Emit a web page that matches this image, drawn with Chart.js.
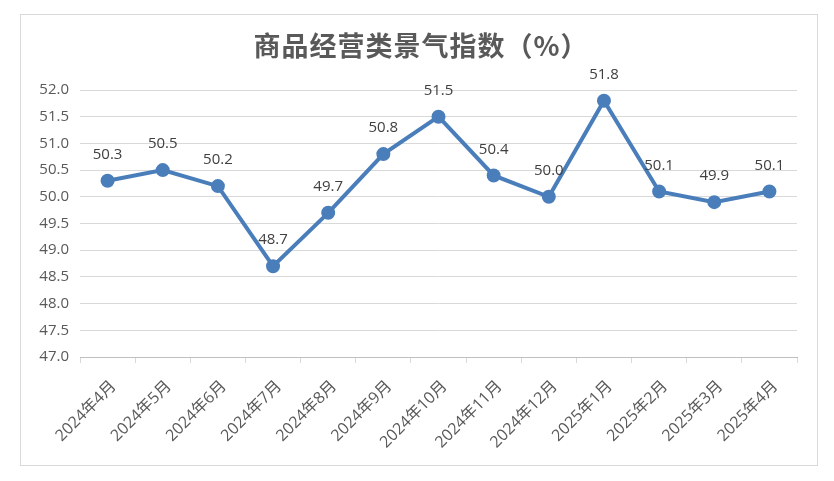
<!DOCTYPE html>
<html>
<head>
<meta charset="utf-8">
<script src="https://cdn.jsdelivr.net/npm/chart.js@4/dist/chart.umd.min.js"></script>
<style>
  html, body { margin: 0; padding: 0; background: #ffffff; }
  #wrap { position: relative; width: 834px; height: 481px; }
  #frame { position: absolute; left: 20px; top: 14px; width: 798px; height: 452px; border: 1px solid #d9d9d9; box-sizing: border-box; }
  canvas { position: absolute; left: 0; top: 0; }
</style>
</head>
<body>
<div id="wrap">
  <div id="frame"></div>
  <canvas id="c" width="834" height="481"></canvas>
</div>
<script>
const chartTitle = '商品经营类景气指数（%）';
const categories = ['2024年4月','2024年5月','2024年6月','2024年7月','2024年8月','2024年9月','2024年10月','2024年11月','2024年12月','2025年1月','2025年2月','2025年3月','2025年4月'];
const indexValues = [50.3, 50.5, 50.2, 48.7, 49.7, 50.8, 51.5, 50.4, 50.0, 51.8, 50.1, 49.9, 50.1];
const yMin = 47.0;
const yMax = 52.0;
const yStep = 0.5;

const labelFont = '"Open Sans", "Noto Sans CJK SC", sans-serif';

const titlePlugin = {
  id: 'customTitle',
  afterDraw(chart) {
    const ctx = chart.ctx;
    ctx.save();
    ctx.font = 'bold 27px "Noto Sans CJK SC", sans-serif';
    try { ctx.letterSpacing = '1px'; } catch (e) {}
    ctx.fillStyle = '#595959';
    ctx.textAlign = 'center';
    ctx.textBaseline = 'middle';
    ctx.fillText(chartTitle, 421, 46);
    ctx.restore();
  }
};

const valueLabels = {
  id: 'valueLabels',
  afterDatasetsDraw(chart) {
    const ctx = chart.ctx;
    const meta = chart.getDatasetMeta(0);
    ctx.save();
    ctx.font = '15px ' + labelFont;
    ctx.fillStyle = '#404040';
    ctx.textAlign = 'center';
    ctx.textBaseline = 'middle';
    meta.data.forEach((pt, i) => {
      ctx.fillText(indexValues[i].toFixed(1), pt.x, pt.y - 26);
    });
    ctx.restore();
  }
};

new Chart(document.getElementById('c'), {
  type: 'line',
  data: {
    labels: categories,
    datasets: [{
      data: indexValues,
      borderColor: '#4a7ebb',
      backgroundColor: '#4a7ebb',
      borderWidth: 4,
      pointRadius: 5,
      pointHoverRadius: 5,
      pointBackgroundColor: '#4a7ebb',
      pointBorderColor: '#4a7ebb',
      tension: 0,
      clip: false
    }]
  },
  options: {
    responsive: false,
    animation: false,
    devicePixelRatio: 1,
    layout: { padding: { top: 90, left: 20, right: 37, bottom: 24 } },
    plugins: {
      legend: { display: false },
      title: { display: false },
      tooltip: { enabled: false }
    },
    scales: {
      x: {
        type: 'category',
        offset: true,
        grid: {
          offset: true,
          drawOnChartArea: false,
          drawTicks: true,
          tickLength: 6,
          color: '#d9d9d9'
        },
        border: { display: true, color: '#bfbfbf', width: 1 },
        ticks: {
          autoSkip: false,
          minRotation: 45,
          maxRotation: 45,
          padding: 14,
          labelOffset: 6,
          color: '#595959',
          font: { family: labelFont, size: 16 }
        },
        afterFit(scale) { scale.height = 100; }
      },
      y: {
        min: yMin,
        max: yMax,
        grid: { color: '#d9d9d9', drawTicks: false, lineWidth: 1 },
        border: { display: false },
        ticks: {
          stepSize: yStep,
          padding: 11,
          color: '#595959',
          font: { family: labelFont, size: 15 },
          callback: v => Number(v).toFixed(1)
        },
        afterFit(scale) { scale.width = 60; }
      }
    }
  },
  plugins: [titlePlugin, valueLabels]
});
</script>
</body>
</html>
